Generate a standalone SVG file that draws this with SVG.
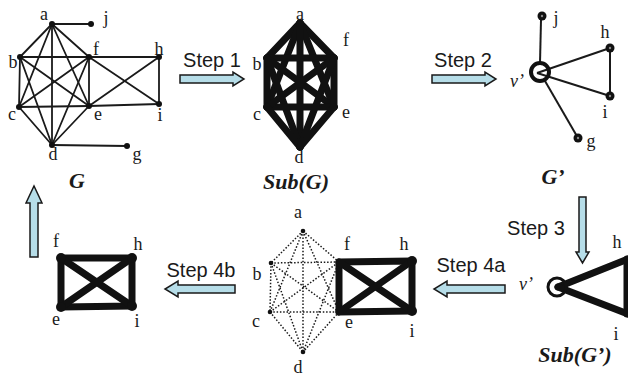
<svg xmlns="http://www.w3.org/2000/svg" width="628" height="377" viewBox="0 0 628 377">
<style>
.lbl{font-family:"Liberation Serif","Times New Roman",serif;font-size:18px;fill:#1a1a1a;text-anchor:middle}
.ttl{font-family:"Liberation Serif","Times New Roman",serif;font-size:22px;font-weight:bold;font-style:italic;fill:#1a1a1a;text-anchor:middle}
.vp{font-family:"Liberation Serif","Times New Roman",serif;font-size:18px;font-style:italic;fill:#1a1a1a;text-anchor:middle}
.step{font-family:"Liberation Sans",Arial,sans-serif;font-size:20px;fill:#1a1a1a;text-anchor:middle}
.thin{stroke:#1a1a1a;stroke-width:1.8;fill:none;stroke-linecap:round}
.thick{stroke:#111;stroke-width:7;fill:none;stroke-linecap:round;stroke-linejoin:round}
.med{stroke:#1a1a1a;stroke-width:2;fill:none}
.dot{stroke:#1a1a1a;stroke-width:1.5;fill:none;stroke-dasharray:1.5 1.8}
.arrow{fill:#b6dde8;stroke:#1a1a1a;stroke-width:1.5;stroke-linejoin:miter}
.nd{fill:#111}
</style>

<!-- Graph G -->
<g id="G">
  <g id="G-edges" class="thin">
    <line x1="52" y1="24" x2="91" y2="24"/>
    <line x1="52" y1="24" x2="20" y2="57"/>
    <line x1="52" y1="24" x2="89" y2="57"/>
    <line x1="52" y1="24" x2="19" y2="107"/>
    <line x1="52" y1="24" x2="89" y2="106"/>
    <line x1="52" y1="24" x2="52" y2="145"/>
    <line x1="20" y1="57" x2="89" y2="57"/>
    <line x1="20" y1="57" x2="19" y2="107"/>
    <line x1="20" y1="57" x2="89" y2="106"/>
    <line x1="20" y1="57" x2="52" y2="145"/>
    <line x1="19" y1="107" x2="89" y2="106"/>
    <line x1="19" y1="107" x2="89" y2="57"/>
    <line x1="19" y1="107" x2="52" y2="145"/>
    <line x1="89" y1="57" x2="89" y2="106"/>
    <line x1="89" y1="57" x2="52" y2="145"/>
    <line x1="89" y1="106" x2="52" y2="145"/>
    <line x1="89" y1="57" x2="159" y2="57"/>
    <line x1="89" y1="57" x2="159" y2="104"/>
    <line x1="89" y1="106" x2="159" y2="57"/>
    <line x1="89" y1="106" x2="159" y2="104"/>
    <line x1="159" y1="57" x2="159" y2="104"/>
    <line x1="52" y1="145" x2="127" y2="146"/>
  </g>
  <g id="G-nodes" class="nd">
    <circle cx="52" cy="24" r="3"/><circle cx="91" cy="24" r="3"/>
    <circle cx="20" cy="57" r="3"/><circle cx="89" cy="57" r="3"/>
    <circle cx="159" cy="57" r="3"/><circle cx="19" cy="107" r="3"/>
    <circle cx="89" cy="106" r="3"/><circle cx="159" cy="104" r="3"/>
    <circle cx="52" cy="145" r="3"/><circle cx="127" cy="146" r="3"/>
  </g>
  <text class="lbl" x="44" y="20">a</text>
  <text class="lbl" x="106" y="24">j</text>
  <text class="lbl" x="96" y="55">f</text>
  <text class="lbl" x="159" y="55">h</text>
  <text class="lbl" x="13" y="68">b</text>
  <text class="lbl" x="12" y="120">c</text>
  <text class="lbl" x="98" y="120">e</text>
  <text class="lbl" x="160" y="121">i</text>
  <text class="lbl" x="53" y="160">d</text>
  <text class="lbl" x="137" y="160">g</text>
  <text class="ttl" x="77" y="188">G</text>
</g>

<!-- Sub(G) -->
<g id="SubG">
  <g class="thick">
    <line x1="300" y1="23" x2="267" y2="58"/>
    <line x1="300" y1="23" x2="334" y2="58"/>
    <line x1="300" y1="23" x2="267" y2="107"/>
    <line x1="300" y1="23" x2="334" y2="107"/>
    <line x1="300" y1="23" x2="300" y2="147"/>
    <line x1="267" y1="58" x2="334" y2="58"/>
    <line x1="267" y1="58" x2="267" y2="107"/>
    <line x1="267" y1="58" x2="334" y2="107"/>
    <line x1="267" y1="58" x2="300" y2="147"/>
    <line x1="267" y1="107" x2="334" y2="107"/>
    <line x1="267" y1="107" x2="334" y2="58"/>
    <line x1="267" y1="107" x2="300" y2="147"/>
    <line x1="334" y1="58" x2="334" y2="107"/>
    <line x1="334" y1="58" x2="300" y2="147"/>
    <line x1="334" y1="107" x2="300" y2="147"/>
  </g>
  <text class="lbl" x="300" y="20">a</text>
  <text class="lbl" x="257" y="70">b</text>
  <text class="lbl" x="257" y="120">c</text>
  <text class="lbl" x="299" y="163">d</text>
  <text class="lbl" x="346" y="46">f</text>
  <text class="lbl" x="346" y="118">e</text>
  <text class="ttl" x="296" y="189">Sub(G)</text>
</g>

<!-- G' -->
<g id="Gprime">
  <g class="med">
    <line x1="541" y1="20" x2="540" y2="63"/>
    <line x1="537" y1="73" x2="610" y2="48"/>
    <line x1="537" y1="73" x2="610" y2="96"/>
    <line x1="610" y1="48" x2="610" y2="96"/>
    <line x1="545" y1="81" x2="578" y2="138"/>
  </g>
  <circle cx="540" cy="72" r="9" fill="none" stroke="#111" stroke-width="4"/>
  <g class="nd">
    <circle cx="542" cy="16" r="4.5"/><circle cx="610" cy="48" r="4.5"/>
    <circle cx="610" cy="96" r="4.5"/><circle cx="578" cy="138" r="4.5"/>
  </g>
  <g fill="#888">
    <circle cx="542" cy="16" r="1.2"/><circle cx="610" cy="48" r="1.2"/>
    <circle cx="610" cy="96" r="1.2"/><circle cx="578" cy="138" r="1.2"/>
  </g>
  <text class="lbl" x="556" y="24">j</text>
  <text class="lbl" x="605" y="38">h</text>
  <text class="lbl" x="605" y="118">i</text>
  <text class="lbl" x="591" y="147">g</text>
  <text class="vp" x="517" y="87">v’</text>
  <text class="ttl" x="553" y="184">G’</text>
</g>

<!-- Sub(G') -->
<g id="SubGprime">
  <g class="thick">
    <line x1="558" y1="287" x2="628" y2="259"/>
    <line x1="558" y1="287" x2="628" y2="314"/>
    <line x1="627" y1="259" x2="627" y2="314"/>
  </g>
  <circle cx="557" cy="287" r="9" fill="none" stroke="#111" stroke-width="3"/>
  <text class="lbl" x="617" y="248">h</text>
  <text class="lbl" x="616" y="340">i</text>
  <text class="vp" x="526" y="290">v’</text>
  <text class="ttl" x="575" y="362">Sub(G’)</text>
</g>

<!-- dotted K6 + fhie -->
<g id="Step4a-graph">
  <g class="dot">
    <line x1="303" y1="231" x2="271" y2="263"/>
    <line x1="303" y1="231" x2="270" y2="312"/>
    <line x1="303" y1="231" x2="339" y2="262"/>
    <line x1="303" y1="231" x2="339" y2="312"/>
    <line x1="303" y1="231" x2="303" y2="352"/>
    <line x1="271" y1="263" x2="339" y2="262"/>
    <line x1="271" y1="263" x2="270" y2="312"/>
    <line x1="271" y1="263" x2="339" y2="312"/>
    <line x1="271" y1="263" x2="303" y2="352"/>
    <line x1="270" y1="312" x2="339" y2="262"/>
    <line x1="270" y1="312" x2="339" y2="312"/>
    <line x1="270" y1="312" x2="303" y2="352"/>
    <line x1="339" y1="262" x2="303" y2="352"/>
    <line x1="339" y1="312" x2="303" y2="352"/>
  </g>
  <g class="nd">
    <circle cx="303" cy="231" r="2.3"/><circle cx="271" cy="263" r="2.3"/>
    <circle cx="270" cy="312" r="2.3"/><circle cx="303" cy="352" r="2.3"/>
  </g>
  <g class="thick">
    <polygon points="339,262 412,261 412,311 339,312"/>
    <line x1="339" y1="262" x2="412" y2="311"/>
    <line x1="339" y1="312" x2="412" y2="261"/>
  </g>
  <g class="nd">
    <circle cx="412" cy="261" r="5"/><circle cx="412" cy="311" r="5"/>
  </g>
  <text class="lbl" x="298" y="218">a</text>
  <text class="lbl" x="257" y="280">b</text>
  <text class="lbl" x="256" y="327">c</text>
  <text class="lbl" x="298" y="373">d</text>
  <text class="lbl" x="347" y="250">f</text>
  <text class="lbl" x="404" y="250">h</text>
  <text class="lbl" x="349" y="328">e</text>
  <text class="lbl" x="412" y="337">i</text>
</g>

<!-- final fhie -->
<g id="Final">
  <g class="thick">
    <polygon points="61,258 132,258 132,306 61,307"/>
    <line x1="61" y1="258" x2="132" y2="306"/>
    <line x1="61" y1="307" x2="132" y2="258"/>
  </g>
  <g class="nd">
    <circle cx="61" cy="258" r="5"/><circle cx="132" cy="258" r="5"/>
    <circle cx="61" cy="307" r="5"/><circle cx="132" cy="306" r="5"/>
  </g>
  <text class="lbl" x="56" y="247">f</text>
  <text class="lbl" x="138" y="250">h</text>
  <text class="lbl" x="56" y="325">e</text>
  <text class="lbl" x="137" y="327">i</text>
</g>

<!-- step arrows -->
<g id="connectors">
  <polygon class="arrow" points="180,75 233,75 233,72 244,79 233,86 233,83 180,83"/>
  <text class="step" x="212" y="67">Step 1</text>
  <polygon class="arrow" points="432,75 485,75 485,72 496,79 485,86 485,83 432,83"/>
  <text class="step" x="463" y="67">Step 2</text>
  <polygon class="arrow" points="579,197 586,197 586,252 589,252 582.5,263 576,252 579,252"/>
  <text class="step" x="536" y="235">Step 3</text>
  <polygon class="arrow" points="505,285 447,285 447,281 434,289 447,297 447,293 505,293"/>
  <text class="step" x="471" y="272">Step 4a</text>
  <polygon class="arrow" points="235,285 178,285 178,281 165,289 178,297 178,293 235,293"/>
  <text class="step" x="201" y="277">Step 4b</text>
  <polygon class="arrow" points="30,257 30,203 26,203 34,186 42,203 38,203 38,257"/>
</g>
</svg>
